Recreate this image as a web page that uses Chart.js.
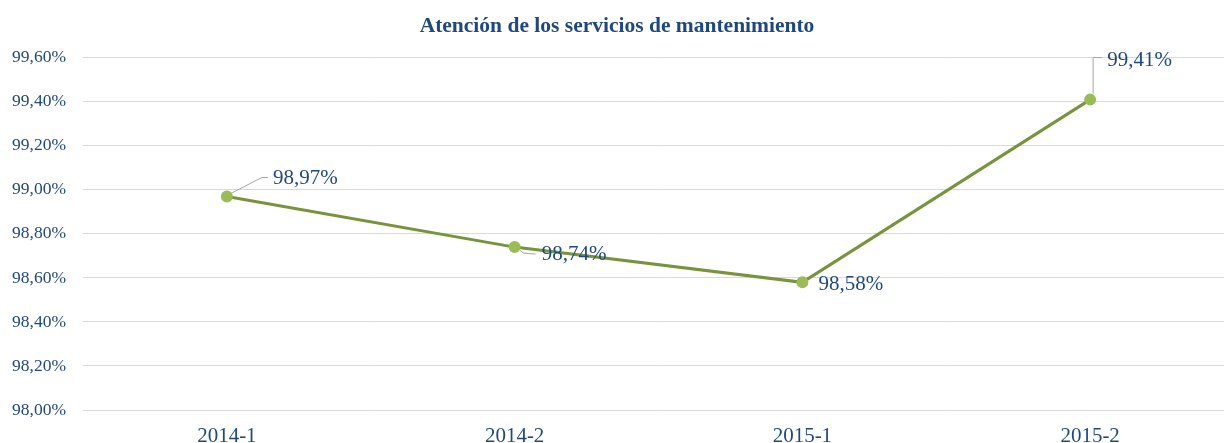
<!DOCTYPE html>
<html><head><meta charset="utf-8">
<script src="https://cdn.jsdelivr.net/npm/chart.js@4/dist/chart.umd.min.js"></script>
<style>
html,body{margin:0;padding:0;background:#fff;overflow:hidden;width:1224px;height:443px;}
#wrap{position:relative;width:1256px;height:443px;}
</style></head><body>
<div id="wrap"><canvas id="c"></canvas></div>
<script>
const categories = ['2014-1','2014-2','2015-1','2015-2'];
const values = [98.97, 98.74, 98.58, 99.41];
const yMin = 98.0, yMax = 99.6, yStep = 0.2;
const titleText = 'Atención de los servicios de mantenimiento';

const TXT = '#1F497D';
const SERIF = '"Liberation Serif", "Times New Roman", serif';
const fmt = v => v.toFixed(2).replace('.', ',') + '%';

const labelPlugin = {
  id: 'labels',
  afterDatasetsDraw(chart, args, opts) {
    const ctx = chart.ctx;
    const meta = chart.getDatasetMeta(0);
    ctx.save();
    ctx.font = '21px ' + SERIF;
    ctx.textBaseline = 'middle';
    ctx.textAlign = 'left';
    meta.data.forEach((pt, i) => {
      const o = opts.offsets[i];
      const tx = pt.x + o[0], ty = pt.y + o[1];
      if (o[2]) {
        ctx.strokeStyle = '#A6A6A6';
        ctx.lineWidth = 1;
        ctx.beginPath();
        ctx.moveTo(pt.x + o[2][0][0], pt.y + o[2][0][1]);
        o[2].slice(1).forEach(p => ctx.lineTo(pt.x + p[0], pt.y + p[1]));
        ctx.stroke();
      }
      ctx.fillStyle = TXT;
      ctx.fillText(fmt(values[i]), tx, ty);
    });
    ctx.restore();
  }
};

new Chart(document.getElementById('c'), {
  type: 'line',
  data: {
    labels: categories,
    datasets: [{
      data: values,
      borderColor: '#77933C',
      borderWidth: 3,
      pointBackgroundColor: '#9BBB59',
      pointBorderColor: '#9BBB59',
      pointRadius: 4.5,
      tension: 0
    }]
  },
  options: {
    responsive: true,
    maintainAspectRatio: false,
    animation: false,
    events: [],
    layout: { padding: { left: 0, right: 22, top: 0, bottom: 0 } },
    plugins: {
      legend: { display: false },
      tooltip: { enabled: false },
      title: {
        display: true,
        text: titleText,
        color: TXT,
        font: { family: SERIF, size: 21.5, weight: 'bold' },
        padding: { top: 14, bottom: 18 }
      },
      labels: {
        offsets: [
          [46, -18, [[4, -3], [35, -19], [41, -19]]],
          [27, 7, [[5, 3], [9, 6], [21, 7]]],
          [16, 2, null],
          [17, -39, [[3, -6], [3, -42], [12, -42]]]
        ]
      }
    },
    scales: {
      x: {
        offset: true,
        afterFit(s) { s.height = 33; },
        grid: { display: false, drawTicks: false },
        border: { display: false },
        ticks: {
          color: TXT,
          font: { family: SERIF, size: 21 },
          padding: 14
        }
      },
      y: {
        min: yMin, max: yMax,
        afterFit(s) { s.width = 83; },
        grid: { color: '#D9D9D9', lineWidth: 1, drawTicks: false },
        border: { display: false },
        ticks: {
          stepSize: yStep,
          color: TXT,
          padding: 17,
          font: { family: SERIF, size: 17.5 },
          callback: v => fmt(v)
        }
      }
    }
  },
  plugins: [labelPlugin]
});
</script>
</body></html>
